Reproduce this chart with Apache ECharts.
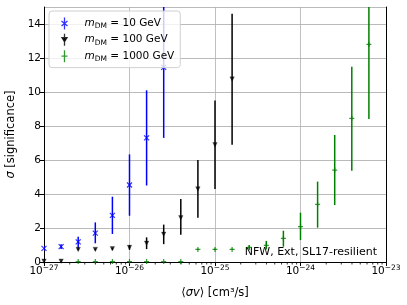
<!DOCTYPE html>
<html><head><meta charset="utf-8">
<script src="https://cdn.jsdelivr.net/npm/echarts@6/dist/echarts.min.js"></script>
<style>html,body{margin:0;padding:0;background:#fff}#c{width:407px;height:305px}</style>
</head><body><div id="c"></div>
<script>
// x positions: <σv> in cm^3/s
const sigmaV = [1e-27, 1.585e-27, 2.512e-27, 3.981e-27, 6.31e-27,
                1e-26, 1.585e-26, 2.512e-26, 3.981e-26, 6.31e-26,
                1e-25, 1.585e-25, 2.512e-25, 3.981e-25, 6.31e-25,
                1e-24, 1.585e-24, 2.512e-24, 3.981e-24, 6.31e-24];
const massLabels = ['10', '100', '1000'];
// m_DM = 10 GeV
const sig10 = [0.80, 0.90, 1.18, 1.70, 2.74, 4.53, 7.30, 11.45];
const lo10  = [0.68, 0.76, 0.80, 1.10, 1.65, 2.72, 4.50, 7.30];
const hi10  = [0.92, 1.04, 1.49, 2.33, 3.84, 6.33, 10.10, 16.5];
// m_DM = 100 GeV
const sig100 = [0.05, 0.05, 0.74, 0.74, 0.78, 0.86, 1.10, 1.63, 2.60, 4.30, 6.90, 10.76];
const lo100  = [0.02, 0.02, 0.70, 0.70, 0.72, 0.72, 0.76, 1.05, 1.60, 2.60, 4.30, 6.90];
const hi100  = [0.08, 0.08, 0.78, 0.78, 0.84, 1.00, 1.45, 2.20, 3.70, 6.00, 9.50, 14.60];
// m_DM = 1000 GeV
const sig1000 = [null, null, 0.03, 0.03, 0.03, 0.03, 0.03, 0.03, 0.03, 0.74, 0.74, 0.74, 0.86, 0.98, 1.39, 2.08, 3.39, 5.41, 8.45, 12.80];
const lo1000  = [null, null, 0.02, 0.02, 0.02, 0.02, 0.02, 0.02, 0.02, 0.70, 0.70, 0.70, 0.74, 0.74, 0.90, 1.29, 2.02, 3.35, 5.37, 8.41];
const hi1000  = [null, null, 0.04, 0.04, 0.04, 0.04, 0.04, 0.04, 0.04, 0.78, 0.78, 0.78, 0.98, 1.24, 1.84, 2.90, 4.73, 7.47, 11.49, 17.2];
const xMin = 1e-27, xMax = 1e-23;
const xTickExponents = {'-27': '−27', '-26': '−26', '-25': '−25', '-24': '−24', '-23': '−23'};
const annotation = 'NFW, Ext, SL17-resilient';

// ECharts' log scale loses precision at ~1e-27, so plot in units of xMin
const X_UNIT = xMin;
const X_UNIT_EXP = Math.round(Math.log10(X_UNIT));
const ux = v => v / X_UNIT;

const colors = ['#0000ff', '#000000', '#008000'];
const FONT = 'DejaVu Sans';

function pts(vals) { const o = []; vals.forEach((v, i) => { if (v != null) o.push([ux(sigmaV[i]), v]); }); return o; }
function bars(vals, lo, hi) { const o = []; vals.forEach((v, i) => { if (v != null) o.push([ux(sigmaV[i]), lo[i], hi[i]]); }); return o; }
function ebRender(color) {
  return function (params, api) {
    const a = api.coord([api.value(0), api.value(1)]);
    const b = api.coord([api.value(0), api.value(2)]);
    return { type: 'line', shape: { x1: a[0], y1: a[1], x2: b[0], y2: b[1] }, style: { stroke: color, lineWidth: 1.5 } };
  };
}
// minor tick positions on log axis (2..9 × each decade)
const minorTicks = [];
for (let d = 0; d < 4; d++) for (let k = 2; k <= 9; k++) minorTicks.push([k * Math.pow(10, d), 0]);

const symX = 'path://M0,0L10,10M10,0L0,10';
const symPlus = 'path://M5,0L5,10M0,5L10,5';
const symTri = 'path://M0,0L10,0L5,9Z';

const chart = echarts.init(document.getElementById('c'), null, { renderer: 'canvas' });
chart.setOption({
  animation: false,
  textStyle: { fontFamily: FONT },
  grid: { left: 44, right: 21, top: 7, bottom: 43, containLabel: false, outerBoundsMode: 'none', show: false },
  xAxis: {
    type: 'log', logBase: 10, min: ux(xMin), max: ux(xMax),
    name: '⟨{i|σv}⟩ [cm³/s]', nameLocation: 'middle', nameGap: 25,
    nameTextStyle: { fontSize: 11.5, color: '#000', rich: { i: { fontStyle: 'italic', fontSize: 11.5, color: '#000' } } },
    axisLine: { lineStyle: { color: '#000', width: 1 } },
    axisTick: { length: 4, lineStyle: { color: '#000' } },
    splitLine: { show: true, lineStyle: { color: '#b0b0b0', width: 0.8 } },
    axisLabel: {
      margin: 2, color: '#000',
      formatter: v => '{b|10}{e|' + xTickExponents[String(Math.round(Math.log10(v)) + X_UNIT_EXP)] + '}',
      rich: {
        b: { fontSize: 10.5, color: '#000' },
        e: { fontSize: 7.5, color: '#000', padding: [0, 0, 7, 0] }
      }
    }
  },
  yAxis: [{
    type: 'value', min: 0, max: 15, interval: 2,
    name: '{i|σ} [significance]', nameLocation: 'middle', nameGap: 26,
    nameTextStyle: { fontSize: 11.5, color: '#000', rich: { i: { fontStyle: 'italic', fontSize: 11.5, color: '#000' } } },
    axisLine: { show: true, lineStyle: { color: '#000', width: 1 } },
    axisTick: { show: true, length: 4, lineStyle: { color: '#000' } },
    axisLabel: { margin: 3, color: '#000', fontSize: 10.5, showMaxLabel: false },
    splitLine: { show: true, lineStyle: { color: '#a8a8a8', width: 0.8 } }
  }, {
    type: 'value', position: 'right', min: 0, max: 15,
    axisLine: { show: true, lineStyle: { color: '#000', width: 1 } },
    axisTick: { show: false }, axisLabel: { show: false }, splitLine: { show: false }
  }],
  legend: {
    orient: 'vertical', left: 49, top: 11, itemWidth: 6, itemHeight: 12, itemGap: 1,
    padding: [4, 6, 3, 10], backgroundColor: 'rgba(255,255,255,0.8)',
    borderColor: '#d0d0d0', borderWidth: 1, borderRadius: 3,
    data: [
      { name: massLabels[0], icon: 'path://M3,0L3,12M0,3.5L6,8.5M6,3.5L0,8.5', itemStyle: { color: 'none', borderColor: colors[0], borderWidth: 1.3 } },
      { name: massLabels[1], icon: 'path://M3,0L3,12M0.5,4L5.5,4L3,8Z', itemStyle: { color: colors[1], borderColor: colors[1], borderWidth: 1.3 } },
      { name: massLabels[2], icon: 'path://M3,0L3,12M0,6L6,6', itemStyle: { color: 'none', borderColor: colors[2], borderWidth: 1.3 } }
    ],
    formatter: n => '{i|m}{s|DM}{t| = ' + n + ' GeV}',
    textStyle: {
      color: '#000',
      rich: {
        i: { fontStyle: 'italic', fontSize: 10.5, color: '#000', padding: [0, 0, 0, 12], lineHeight: 14 },
        s: { fontSize: 7.5, color: '#000', lineHeight: 14, verticalAlign: 'bottom' },
        t: { fontSize: 10.5, color: '#000', lineHeight: 14 }
      }
    }
  },
  graphic: [{
    type: 'text', right: 28, top: 246,
    style: { text: annotation, font: '11px "DejaVu Sans"', fill: '#000', backgroundColor: 'rgba(255,255,255,0.8)', padding: [1, 2, 1, 2] }
  }],
  series: [
    { type: 'custom', name: 'eb10', renderItem: ebRender(colors[0]), data: bars(sig10, lo10, hi10), encode: { x: 0, y: [1, 2] }, clip: true, z: 2 },
    { type: 'scatter', name: massLabels[0], data: pts(sig10), symbol: symX, symbolSize: 5, itemStyle: { color: 'none', borderColor: colors[0], borderWidth: 1.2 }, z: 3 },
    { type: 'custom', name: 'eb100', renderItem: ebRender(colors[1]), data: bars(sig100, lo100, hi100), encode: { x: 0, y: [1, 2] }, clip: true, z: 4 },
    { type: 'scatter', name: massLabels[1], data: pts(sig100), symbol: symTri, symbolSize: 4.5, itemStyle: { color: colors[1], borderColor: colors[1], borderWidth: 0.3 }, z: 5 },
    { type: 'custom', name: 'eb1000', renderItem: ebRender(colors[2]), data: bars(sig1000, lo1000, hi1000), encode: { x: 0, y: [1, 2] }, clip: true, z: 6 },
    { type: 'scatter', name: massLabels[2], data: pts(sig1000), symbol: symPlus, symbolSize: 5, itemStyle: { color: 'none', borderColor: colors[2], borderWidth: 1.2 }, z: 7 },
    {
      type: 'custom', name: 'minor', silent: true, clip: false, data: minorTicks, encode: { x: 0, y: 1 },
      renderItem: function (params, api) {
        const p = api.coord([api.value(0), 0]);
        return { type: 'line', shape: { x1: p[0], y1: p[1], x2: p[0], y2: p[1] + 2.5 }, style: { stroke: '#000', lineWidth: 0.8 } };
      }
    }
  ]
});
</script></body></html>
